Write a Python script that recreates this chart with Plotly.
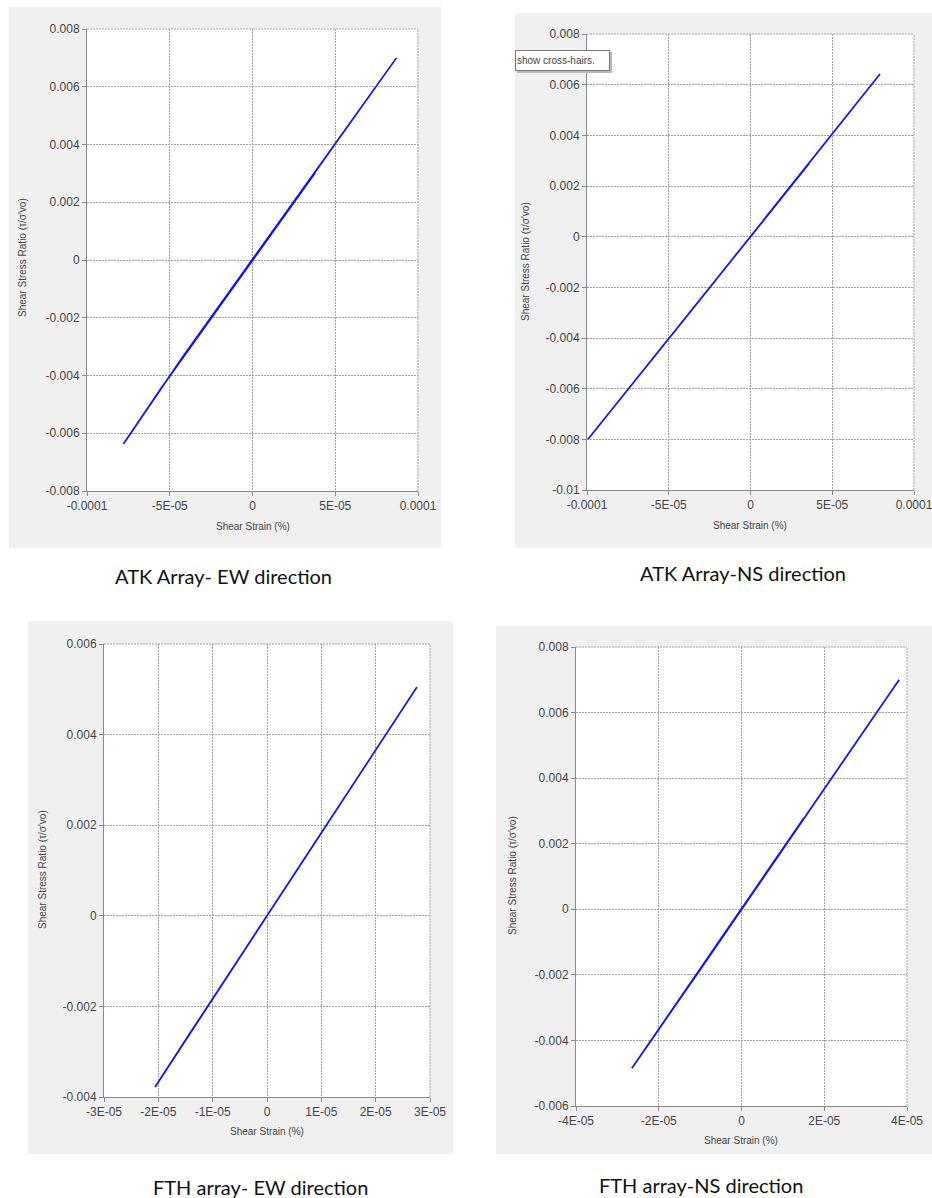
import plotly.graph_objects as go

W, H = 932, 1198

# Shear strain (%) and shear stress ratio for each recorded array/direction
atk_ew_strain = [0, 2.1e-5, 4.6e-5, 8.7e-5, 6.0e-5, 2.5e-5, -1.0e-5, -4.2e-5, -7.8e-5,
                 -5.5e-5, -2.0e-5, 1.2e-5, 3.8e-5, 1.5e-5, -1.6e-5, -3.1e-5, -0.8e-5, 0.9e-5, 0]
atk_ew_stress = [0, 0.00168, 0.00368, 0.00700, 0.00482, 0.00202, -0.00078, -0.00334, -0.00637,
                 -0.00442, -0.00162, 0.00094, 0.00303, 0.00122, -0.00127, -0.00247, -0.00066, 0.00071, 0]

atk_ns_strain = [0, 2.4e-5, 5.1e-5, 7.92e-5, 4.8e-5, 1.1e-5, -3.0e-5, -6.6e-5, -9.94e-5,
                 -6.2e-5, -2.5e-5, 1.4e-5, 3.6e-5, 0.9e-5, -1.8e-5, -3.9e-5, -1.2e-5, 0]
atk_ns_stress = [0, 0.00195, 0.00412, 0.00642, 0.00386, 0.00090, -0.00242, -0.00531, -0.00800,
                 -0.00498, -0.00203, 0.00113, 0.00290, 0.00072, -0.00145, -0.00314, -0.00097, 0]

fth_ew_strain = [0, 0.8e-5, 1.7e-5, 2.76e-5, 1.9e-5, 0.6e-5, -0.7e-5, -1.4e-5, -2.06e-5,
                 -1.3e-5, -0.4e-5, 0.5e-5, 1.2e-5, 0.3e-5, -0.6e-5, -1.0e-5, -0.2e-5, 0]
fth_ew_stress = [0, 0.00146, 0.00311, 0.00505, 0.00348, 0.00110, -0.00128, -0.00256, -0.00378,
                 -0.00238, -0.00073, 0.00092, 0.00220, 0.00055, -0.00110, -0.00183, -0.00037, 0]

fth_ns_strain = [0, 1.1e-5, 2.5e-5, 3.81e-5, 2.6e-5, 0.9e-5, -0.8e-5, -1.8e-5, -2.65e-5,
                 -1.6e-5, -0.5e-5, 0.6e-5, 1.5e-5, 0.4e-5, -0.7e-5, -1.2e-5, -0.3e-5, 0]
fth_ns_stress = [0, 0.00203, 0.00461, 0.00700, 0.00478, 0.00164, -0.00148, -0.00330, -0.00485,
                 -0.00294, -0.00090, 0.00112, 0.00277, 0.00072, -0.00130, -0.00221, -0.00054, 0]

# Axis ticks
atk_x_ticks = [-0.0001, -0.00005, 0, 0.00005, 0.0001]
atk_x_labels = ["-0.0001", "-5E-05", "0", "5E-05", "0.0001"]
atk_ew_y_ticks = [-0.008, -0.006, -0.004, -0.002, 0, 0.002, 0.004, 0.006, 0.008]
atk_ew_y_labels = ["-0.008", "-0.006", "-0.004", "-0.002", "0", "0.002", "0.004", "0.006", "0.008"]
atk_ns_y_ticks = [-0.01, -0.008, -0.006, -0.004, -0.002, 0, 0.002, 0.004, 0.006, 0.008]
atk_ns_y_labels = ["-0.01", "-0.008", "-0.006", "-0.004", "-0.002", "0", "0.002", "0.004", "0.006", "0.008"]
fth_ew_x_ticks = [-3e-5, -2e-5, -1e-5, 0, 1e-5, 2e-5, 3e-5]
fth_ew_x_labels = ["-3E-05", "-2E-05", "-1E-05", "0", "1E-05", "2E-05", "3E-05"]
fth_ew_y_ticks = [-0.004, -0.002, 0, 0.002, 0.004, 0.006]
fth_ew_y_labels = ["-0.004", "-0.002", "0", "0.002", "0.004", "0.006"]
fth_ns_x_ticks = [-4e-5, -2e-5, 0, 2e-5, 4e-5]
fth_ns_x_labels = ["-4E-05", "-2E-05", "0", "2E-05", "4E-05"]
fth_ns_y_ticks = [-0.006, -0.004, -0.002, 0, 0.002, 0.004, 0.006, 0.008]
fth_ns_y_labels = ["-0.006", "-0.004", "-0.002", "0", "0.002", "0.004", "0.006", "0.008"]

captions = ["ATK Array- EW direction", "ATK Array-NS direction",
            "FTH array- EW direction", "FTH array-NS direction"]
x_title = "Shear Strain (%)"
y_title = "Shear Stress Ratio (τ/σ'vo)"

# Panel geometry in pixels: plot area (x0, x1, y0, y1), grey frame, captions, titles
panels = [
    dict(x=atk_ew_strain, y=atk_ew_stress, xt=atk_x_ticks, xl=atk_x_labels,
         yt=atk_ew_y_ticks, yl=atk_ew_y_labels, plot=(87, 418, 29, 491), frame=(9, 441, 7, 548),
         cap=(223, 576), xtit=(253, 526), ytit=(22, 258)),
    dict(x=atk_ns_strain, y=atk_ns_stress, xt=atk_x_ticks, xl=atk_x_labels,
         yt=atk_ns_y_ticks, yl=atk_ns_y_labels, plot=(587, 914, 34, 490), frame=(515, 932, 13, 548),
         cap=(743, 573), xtit=(750, 525), ytit=(525, 262)),
    dict(x=fth_ew_strain, y=fth_ew_stress, xt=fth_ew_x_ticks, xl=fth_ew_x_labels,
         yt=fth_ew_y_ticks, yl=fth_ew_y_labels, plot=(104, 430, 644, 1097), frame=(28, 453, 621, 1154),
         cap=(260, 1187), xtit=(267, 1131), ytit=(42, 870)),
    dict(x=fth_ns_strain, y=fth_ns_stress, xt=fth_ns_x_ticks, xl=fth_ns_x_labels,
         yt=fth_ns_y_ticks, yl=fth_ns_y_labels, plot=(576, 907, 647, 1106), frame=(496, 932, 626, 1154),
         cap=(701, 1185), xtit=(741, 1140), ytit=(512, 876)),
]


def px(v):
    return v / W


def py(v):
    return 1 - v / H


TICK_FONT = dict(family="Liberation Sans, Arial, sans-serif", size=12, color="#444444")
GRID = "#a0a0a0"
GRID_DASH = "2px,1px"
AXIS = "#8a8a8a"

fig = go.Figure()
shapes = []
annotations = []

for i, p in enumerate(panels, start=1):
    xa = "x" if i == 1 else f"x{i}"
    ya = "y" if i == 1 else f"y{i}"
    fig.add_trace(go.Scatter(x=p["x"], y=p["y"], mode="lines", xaxis=xa, yaxis=ya,
                             line=dict(color="#1010ff", width=1.7), showlegend=False,
                             hoverinfo="skip"))
    x0, x1, y0, y1 = p["plot"]
    common = dict(showgrid=True, gridcolor=GRID, griddash=GRID_DASH, gridwidth=1,
                  zeroline=False, showline=True, linecolor=AXIS, linewidth=1,
                  ticks="outside", ticklen=4, tickcolor=AXIS, tickfont=TICK_FONT,
                  tickmode="array", fixedrange=True, automargin=False,
                  ticklabeloverflow="allow")
    fig.layout[f"xaxis{'' if i == 1 else i}"] = dict(
        common, domain=[px(x0), px(x1)], range=[p["xt"][0], p["xt"][-1]],
        tickvals=p["xt"], ticktext=p["xl"], anchor=ya)
    fig.layout[f"yaxis{'' if i == 1 else i}"] = dict(
        common, domain=[py(y1), py(y0)], range=[p["yt"][0], p["yt"][-1]],
        tickvals=p["yt"], ticktext=p["yl"], anchor=xa)

    fx0, fx1, fy0, fy1 = p["frame"]
    shapes.append(dict(type="rect", xref="paper", yref="paper", layer="below",
                       x0=px(fx0), x1=px(fx1), y0=py(fy1), y1=py(fy0),
                       fillcolor="#f0f0f0", line=dict(width=0)))
    shapes.append(dict(type="rect", xref="paper", yref="paper", layer="below",
                       x0=px(x0), x1=px(x1), y0=py(y1), y1=py(y0),
                       fillcolor="#ffffff", line=dict(width=0)))
    # dotted top and right borders of the plotting area
    shapes.append(dict(type="line", xref=f"{xa} domain", yref=f"{ya} domain", layer="above",
                       x0=0, x1=1, y0=1, y1=1, line=dict(color=GRID, width=1, dash=GRID_DASH)))
    shapes.append(dict(type="line", xref=f"{xa} domain", yref=f"{ya} domain", layer="above",
                       x0=1, x1=1, y0=0, y1=1, line=dict(color=GRID, width=1, dash=GRID_DASH)))

    annotations.append(dict(text=captions[i - 1], xref="paper", yref="paper",
                            x=px(p["cap"][0]), y=py(p["cap"][1]), xanchor="center", yanchor="middle",
                            showarrow=False,
                            font=dict(family="Lato, Carlito, sans-serif", size=20, color="#111111")))
    annotations.append(dict(text=x_title, xref="paper", yref="paper",
                            x=px(p["xtit"][0]), y=py(p["xtit"][1]), xanchor="center", yanchor="middle",
                            showarrow=False,
                            font=dict(family="Liberation Sans, Arial, sans-serif", size=10, color="#444444")))
    annotations.append(dict(text=y_title, xref="paper", yref="paper", textangle=-90,
                            x=px(p["ytit"][0]), y=py(p["ytit"][1]), xanchor="center", yanchor="middle",
                            showarrow=False,
                            font=dict(family="Liberation Sans, Arial, sans-serif", size=10, color="#444444")))

# Hover hint box left over in the upper-right chart
shapes.append(dict(type="rect", xref="paper", yref="paper", layer="above",
                   x0=px(517), x1=px(612), y0=py(73), y1=py(52),
                   fillcolor="#b8b8b8", line=dict(width=0)))
annotations.append(dict(text="show cross-hairs.", xref="paper", yref="paper",
                        x=px(515), y=py(60), xanchor="left", yanchor="middle", showarrow=False,
                        width=91, height=17, align="left", bgcolor="#ffffff",
                        bordercolor="#7a7a7a", borderwidth=1, borderpad=1,
                        font=dict(family="Liberation Sans, Arial, sans-serif", size=10, color="#444444")))

fig.update_layout(width=W, height=H, margin=dict(l=0, r=0, t=0, b=0, autoexpand=False),
                  paper_bgcolor="#ffffff", plot_bgcolor="rgba(0,0,0,0)",
                  shapes=shapes, annotations=annotations)

fig.write_html("out.html")
